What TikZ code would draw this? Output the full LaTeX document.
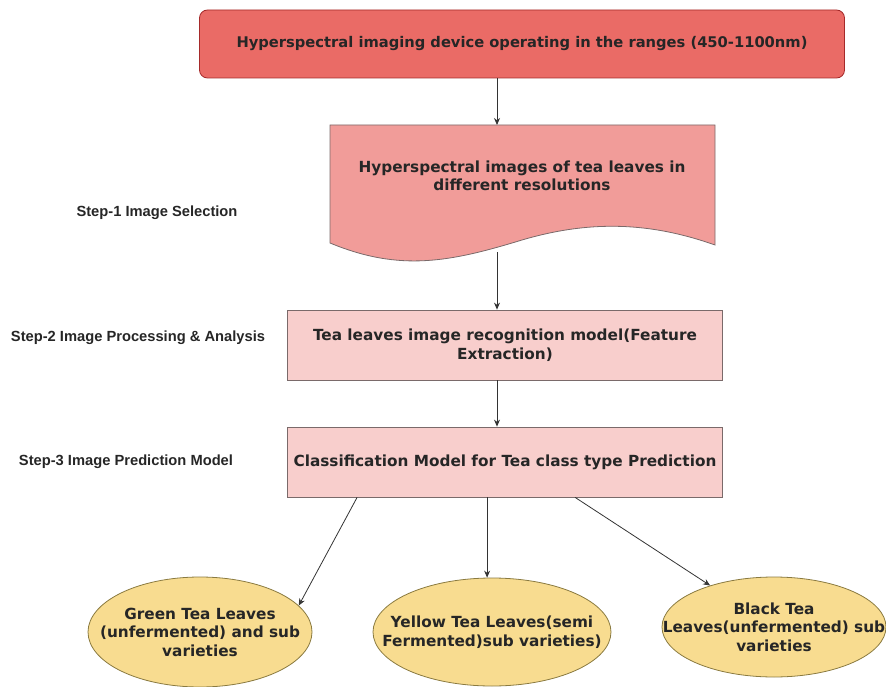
\documentclass[tikz,border=0pt]{standalone}
\usepackage{fontspec}
\setmainfont{DejaVu Sans}
\newfontfamily\steplabelfont{Liberation Sans}
\usetikzlibrary{arrows.meta, shapes.geometric, calc}
\definecolor{devicered}{HTML}{EA6B66}
\definecolor{deviceline}{HTML}{A52A2A}
\definecolor{imgred}{HTML}{F19C99}
\definecolor{boxpink}{HTML}{F8CECC}
\definecolor{boxline}{HTML}{7A6A6A}
\definecolor{leafyellow}{HTML}{F8DC90}
\definecolor{leafline}{HTML}{8A7A40}

\begin{document}
\begin{tikzpicture}[x=1pt, y=-1pt,
    boxtext/.style={font=\fontsize{15.3}{18.5}\selectfont\bfseries, text=black!85, align=center},
    stepbox/.style={boxtext, draw=boxline, fill=boxpink, thick, minimum width=435pt, minimum height=70pt, inner sep=1pt},
    leaf/.style={boxtext, ellipse, draw=leafline, fill=leafyellow, thick, inner xsep=-35pt, inner ysep=0pt},
    steplabel/.style={font=\steplabelfont\fontsize{14.7}{17}\selectfont\bfseries, text=black!85},
    arrow/.style={-{Stealth[length=7pt, width=6pt]}, draw=black!80, thick}]
    \useasboundingbox (0,0) rectangle (886,687);
    % device
    \node[boxtext, font=\fontsize{14.7}{18}\selectfont\bfseries, draw=deviceline, fill=devicered, thick,
        rounded corners=8pt, minimum width=645pt, minimum height=68pt] (device) at (522,44)
        {Hyperspectral imaging device operating in the ranges (450-1100nm)};
    % images (document shape)
    \draw[boxline, thick, fill=imgred] (330,125) -- (715,125) -- (715,245)
        .. controls (650,222) and (590,220) .. (522,240)
        .. controls (450,262) and (400,272) .. (330,243) -- cycle;
    \node[boxtext, minimum width=385pt, minimum height=10pt] (images) at (522,176)
        {Hyperspectral images of tea leaves in\\different resolutions};
    \coordinate (imgtop) at (497,125);
    \coordinate (imgbot) at (497,252);
    % steps
    \node[stepbox] (recog) at (505,345) {Tea leaves image recognition model(Feature\\Extraction)};
    \node[stepbox] (classif) at (505,462) {Classification Model for Tea class type Prediction};
    % leaves
    \node[leaf, minimum width=224pt, minimum height=110pt] (green) at (200,632)
        {Green Tea Leaves\\(unfermented) and sub\\varieties};
    \node[leaf, minimum width=238pt, minimum height=108pt] (yellow) at (492,632)
        {Yellow Tea Leaves(semi\\Fermented)sub varieties)};
    \node[leaf, minimum width=224pt, minimum height=100pt] (black) at (774,627)
        {Black Tea\\Leaves(unfermented) sub\\varieties};
    % step labels
    \node[steplabel] (stepone) at (157,213) {Step-1 Image Selection};
    \node[steplabel] (steptwo) at (138,338) {Step-2 Image Processing \& Analysis};
    \node[steplabel] (stepthree) at (126,462) {Step-3 Image Prediction Model};
    % connectors
    \draw[arrow] (device.south -| imgtop) -- (imgtop);
    \draw[arrow] (imgbot) -- (recog.north -| imgbot);
    \draw[arrow] (recog.south -| imgbot) -- (classif.north -| imgbot);
    \draw[arrow] ($(classif.south west)+(70,0)$) -- (green.15);
    \draw[arrow] ($(classif.south west)+(200,0)$) -- (yellow.north -| {$(classif.south west)+(200,0)$});
    \draw[arrow] ($(classif.south west)+(288,0)$) -- (black.147);
\end{tikzpicture}
\end{document}
